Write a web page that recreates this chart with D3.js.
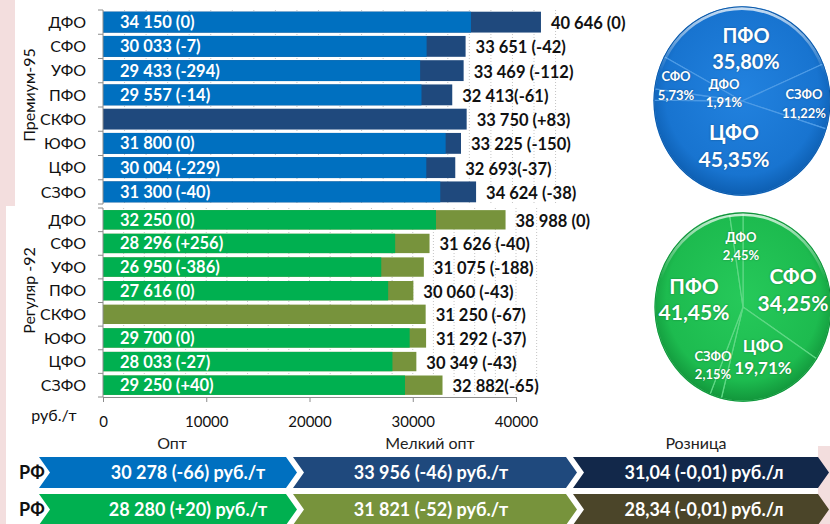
<!DOCTYPE html>
<html>
<head>
<meta charset="utf-8">
<script src="https://cdn.jsdelivr.net/npm/d3@7"></script>
<style>
  body { margin: 0; background: #fff; }
  svg { display: block; font-family: Lato, "Open Sans", sans-serif; }
</style>
</head>
<body>
<svg id="chart" width="830" height="524"></svg>
<script>
// ---- data ----
const regions = ["ДФО", "СФО", "УФО", "ПФО", "СКФО", "ЮФО", "ЦФО", "СЗФО"];

// Премиум-95: опт и мелкий опт, руб./т (изменение за неделю)
const premOpt      = [34150, 30033, 29433, 29557, null, 31800, 30004, 31300];
const premOptChg   = [0, -7, -294, -14, null, 0, -229, -40];
const premSmall    = [40646, 33651, 33469, 32413, 33750, 33225, 32693, 34624];
const premSmallChg = [0, -42, -112, -61, 83, -150, -37, -38];
const premTight    = ["ПФО", "ЦФО"];          // labels written without a space before "("

// Регуляр-92
const regOpt      = [32250, 28296, 26950, 27616, null, 29700, 28033, 29250];
const regOptChg   = [0, 256, -386, 0, null, 0, -27, 40];
const regSmall    = [38988, 31626, 31075, 30060, 31250, 31292, 30349, 32882];
const regSmallChg = [0, -40, -188, -43, -67, -37, -43, -65];
const regTight    = ["СЗФО"];

const xTicks = [0, 10000, 20000, 30000, 40000];

// доли округов, %
const premShareRegions = ["ПФО", "СЗФО", "ЦФО", "ДФО", "СФО"];
const premShare        = [35.80, 11.22, 45.35, 1.91, 5.73];
const regShareRegions  = ["СФО", "ЦФО", "СЗФО", "ПФО", "ДФО"];
const regShare         = [34.25, 19.71, 2.15, 41.45, 2.45];

// итог по РФ: опт, мелкий опт, розница
const rfHeaders  = ["Опт", "Мелкий опт", "Розница"];
const rfPrem     = [30278, 33956, 31.04];
const rfPremChg  = [-66, -46, -0.01];
const rfReg      = [28280, 31821, 28.34];
const rfRegChg   = [20, -52, -0.01];
const rfUnits    = ["руб./т", "руб./т", "руб./л"];

// ---- formatting ----
const ru = d3.formatLocale({ decimal: ",", thousands: " ", grouping: [3], currency: ["", ""], minus: "-" });
const fInt = ru.format(",d");
const fDec = ru.format(".2f");
const signed = (v, f) => (v > 0 ? "+" : "") + f(v);
const valueLabel = (v, chg, tight) => fInt(v) + (tight ? "" : " ") + "(" + signed(chg, fInt) + ")";

const svg = d3.select("#chart");

// page backdrop strips
svg.append("rect").attr("x", 0).attr("y", 0).attr("width", 15).attr("height", 206).attr("fill", "#f3dede");
svg.append("rect").attr("x", 0).attr("y", 206).attr("width", 6).attr("height", 318).attr("fill", "#f3dede");
svg.append("rect").attr("x", 818).attr("y", 446).attr("width", 12).attr("height", 78).attr("fill", "#f3dede");

// ---- bar charts (each panel has its own value scale) ----
const axisColor = "#8c8c8c";

const groups = [
  { name: "Премиум-95", opt: premOpt, optChg: premOptChg, small: premSmall, smallChg: premSmallChg,
    tight: premTight, range: [10, 204], pad: 0.14, cOpt: "#0070C0", cSmall: "#1F497D",
    x: d3.scaleLinear().domain([0, 40000]).range([103, 534]) },
  { name: "Регуляр -92", opt: regOpt, optChg: regOptChg, small: regSmall, smallChg: regSmallChg,
    tight: regTight, range: [208, 397], pad: 0.18, cOpt: "#00B050", cSmall: "#77933C",
    x: d3.scaleLinear().domain([0, 40000]).range([103, 516]) }
];

groups.forEach((g, gi) => {
  const x = g.x;
  const y = d3.scaleBand().domain(regions).range(g.range).paddingInner(g.pad).paddingOuter(g.pad / 2);
  const layer = svg.append("g");

  // dotted vertical grid
  layer.append("g").selectAll("line")
    .data(d3.range(2000, 42001, 2000))
    .join("line")
    .attr("x1", d => x(d)).attr("x2", d => x(d))
    .attr("y1", g.range[0]).attr("y2", g.range[1])
    .attr("stroke", "#c4c4c4").attr("stroke-width", 1).attr("stroke-dasharray", "1 2");

  const rows = regions.map((r, i) => ({
    r, opt: g.opt[i], optChg: g.optChg[i], small: g.small[i], smallChg: g.smallChg[i],
    tight: g.tight.includes(r)
  }));

  // мелкий опт (full bar)
  layer.append("g").selectAll("rect")
    .data(rows).join("rect")
    .attr("x", x(0)).attr("y", d => y(d.r))
    .attr("width", d => x(d.small) - x(0)).attr("height", y.bandwidth())
    .attr("fill", g.cSmall);

  // опт (overlay)
  layer.append("g").selectAll("rect")
    .data(rows.filter(d => d.opt != null)).join("rect")
    .attr("x", x(0)).attr("y", d => y(d.r))
    .attr("width", d => x(d.opt) - x(0)).attr("height", y.bandwidth())
    .attr("fill", g.cOpt);

  // labels inside the bars
  layer.append("g").selectAll("text")
    .data(rows.filter(d => d.opt != null)).join("text")
    .attr("x", x(0) + 17).attr("y", d => y(d.r) + y.bandwidth() / 2)
    .attr("dy", "0.36em")
    .attr("fill", "#fff").attr("font-weight", 700).attr("font-size", 16.5)
    .text(d => valueLabel(d.opt, d.optChg, false));

  // labels after the bars
  layer.append("g").selectAll("text")
    .data(rows).join("text")
    .attr("x", d => x(d.small) + 10).attr("y", d => y(d.r) + y.bandwidth() / 2 + 1)
    .attr("dy", "0.36em")
    .attr("fill", "#111").attr("font-weight", 700).attr("font-size", 16.5)
    .text(d => valueLabel(d.small, d.smallChg, d.tight));

  // category axis
  layer.append("line")
    .attr("x1", x(0)).attr("x2", x(0)).attr("y1", g.range[0]).attr("y2", g.range[1])
    .attr("stroke", axisColor);
  layer.append("g").selectAll("line")
    .data(d3.range(regions.length + 1)).join("line")
    .attr("x1", x(0) - 5).attr("x2", x(0))
    .attr("y1", i => g.range[0] + i * y.step()).attr("y2", i => g.range[0] + i * y.step())
    .attr("stroke", axisColor);
  layer.append("g").selectAll("text")
    .data(regions).join("text")
    .attr("x", 86).attr("y", d => y(d) + y.bandwidth() / 2)
    .attr("dy", "0.36em").attr("text-anchor", "end")
    .attr("font-size", 16).attr("fill", "#111")
    .text(d => d);

  // group title
  layer.append("text")
    .attr("transform", `translate(29,${(g.range[0] + g.range[1]) / 2 - 12}) rotate(-90)`)
    .attr("text-anchor", "middle").attr("dy", "0.36em")
    .attr("font-size", 16).attr("fill", "#111")
    .text(g.name);

  if (gi === 1) {
    const ax = layer.append("g")
      .attr("transform", `translate(0,${g.range[1]})`)
      .call(d3.axisBottom(x).tickValues(xTicks).tickFormat(d3.format("d")).tickSize(5).tickPadding(14).tickSizeOuter(0));
    ax.select(".domain").attr("stroke", axisColor);
    ax.selectAll(".tick line").attr("stroke", axisColor);
    ax.selectAll(".tick text").attr("font-size", 15).attr("fill", "#111").attr("font-family", "Lato, sans-serif");
    layer.append("text").attr("x", 54).attr("y", 415).attr("dy", "0.36em")
      .attr("text-anchor", "middle").attr("font-size", 16).attr("fill", "#111").text("руб./т");
  }
});

// ---- pies ----
const defs = svg.append("defs");
function pieGradients(id, inner, mid, edge) {
  const rg = defs.append("radialGradient").attr("id", id)
    .attr("gradientUnits", "userSpaceOnUse").attr("cx", 0).attr("cy", -8).attr("r", 96);
  rg.append("stop").attr("offset", "0%").attr("stop-color", inner);
  rg.append("stop").attr("offset", "80%").attr("stop-color", mid);
  rg.append("stop").attr("offset", "100%").attr("stop-color", edge);
  const lg = defs.append("linearGradient").attr("id", id + "-rim")
    .attr("x1", 0).attr("y1", 0).attr("x2", 0).attr("y2", 1);
  lg.append("stop").attr("offset", "0%").attr("stop-color", "#fff").attr("stop-opacity", 0.75);
  lg.append("stop").attr("offset", "35%").attr("stop-color", "#fff").attr("stop-opacity", 0);
}
pieGradients("gBlue", "#2282df", "#1874d0", "#0d5eb1");
pieGradients("gGreen", "#26c95a", "#1dbb4f", "#12963b");

const pieLabelOffsets = {
  prem: {
    "ПФО":  { n: [4, -65], p: [4, -39], s: 20 },
    "СЗФО": { n: [62, -7], p: [62, 12], s: 13 },
    "ЦФО":  { n: [-8, 31], p: [-8, 58], s: 21 },
    "ДФО":  { n: [-18, -17], p: [-18, 1], s: 13 },
    "СФО":  { n: [-66, -25], p: [-66, -6], s: 13 }
  },
  reg: {
    "СФО":  { n: [50, -31], p: [50, -4], s: 21 },
    "ЦФО":  { n: [20, 39], p: [20, 61], s: 17 },
    "СЗФО": { n: [-30, 49], p: [-30, 67], s: 13 },
    "ПФО":  { n: [-49, -21], p: [-49, 5], s: 21 },
    "ДФО":  { n: [-2, -70], p: [-2, -52], s: 13 }
  }
};

function drawPie(names, values, start, cx, cy, grad, lineColor, edgeColor, offsets) {
  const r = 88;
  const pie = d3.pie().sort(null).value(d => d.v).startAngle(start).endAngle(start + 2 * Math.PI);
  const arcs = pie(names.map((n, i) => ({ n, v: values[i] })));
  const arc = d3.arc().innerRadius(0).outerRadius(r);
  const g = svg.append("g").attr("transform", `translate(${cx},${cy}) scale(1,1.07)`);
  g.selectAll("path").data(arcs).join("path")
    .attr("d", arc).attr("fill", `url(#${grad})`)
    .attr("stroke", lineColor).attr("stroke-width", 1.2).attr("stroke-linejoin", "round");
  g.append("circle").attr("r", r - 1.5).attr("fill", "none")
    .attr("stroke", `url(#${grad}-rim)`).attr("stroke-width", 3);
  g.append("circle").attr("r", r).attr("fill", "none").attr("stroke", edgeColor).attr("stroke-width", 1);

  const lg = svg.append("g").attr("transform", `translate(${cx},${cy})`)
    .attr("fill", "#fff").attr("font-weight", 700).attr("text-anchor", "middle")
    .style("text-shadow", "0 0 2px rgba(0,0,0,0.35)");
  arcs.forEach(a => {
    const o = offsets[a.data.n];
    lg.append("text").attr("x", o.n[0]).attr("y", o.n[1]).attr("dy", "0.36em")
      .attr("font-size", o.s).text(a.data.n);
    lg.append("text").attr("x", o.p[0]).attr("y", o.p[1]).attr("dy", "0.36em")
      .attr("font-size", o.s).text(fDec(a.data.v) + "%");
  });
}

drawPie(premShareRegions, premShare, -62 * Math.PI / 180, 742, 101, "gBlue", "#4d9be6", "#0b57a6", pieLabelOffsets.prem);
drawPie(regShareRegions, regShare, 0, 743, 307, "gGreen", "#5fd885", "#10903a", pieLabelOffsets.reg);

// ---- итог по РФ ----
const chevrons = [
  { x0: 39, x1: 286, tx: 188 },
  { x0: 293, x1: 566, tx: 431 },
  { x0: 573, x1: 818, tx: 704 }
];
const bannerRows = [
  { y: 457, h: 31, vals: rfPrem, chg: rfPremChg, colors: ["#0070C0", "#1F497D", "#12284a"] },
  { y: 494, h: 31, vals: rfReg, chg: rfRegChg, colors: ["#00B050", "#77933C", "#4b4529"] }
];
const tip = 11;
const chevronPath = (c, y, h) => {
  const m = y + h / 2;
  return `M${c.x0},${y}L${c.x1},${y}L${c.x1 + tip},${m}L${c.x1},${y + h}L${c.x0},${y + h}L${c.x0 + tip},${m}Z`;
};
const bannerValue = (v, chg, unit) => {
  const f = Number.isInteger(v) ? fInt : fDec;
  return f(v) + " (" + signed(chg, f) + ") " + unit;
};

svg.append("g").selectAll("text").data(rfHeaders).join("text")
  .attr("x", (d, i) => [172, 430, 696][i]).attr("y", 443).attr("dy", "0.36em")
  .attr("text-anchor", "middle").attr("font-size", 16).attr("fill", "#222")
  .text(d => d);

bannerRows.forEach(row => {
  const g = svg.append("g");
  g.append("text").attr("x", 19).attr("y", row.y + row.h / 2).attr("dy", "0.36em")
    .attr("font-size", 18).attr("font-weight", 700).attr("fill", "#111").text("РФ");
  chevrons.forEach((c, i) => {
    g.append("path").attr("d", chevronPath(c, row.y, row.h)).attr("fill", row.colors[i]);
    g.append("text").attr("x", c.tx).attr("y", row.y + row.h / 2).attr("dy", "0.36em")
      .attr("text-anchor", "middle").attr("font-size", 18).attr("font-weight", 700).attr("fill", "#fff")
      .text(bannerValue(row.vals[i], row.chg[i], rfUnits[i]));
  });
});
</script>
</body>
</html>
